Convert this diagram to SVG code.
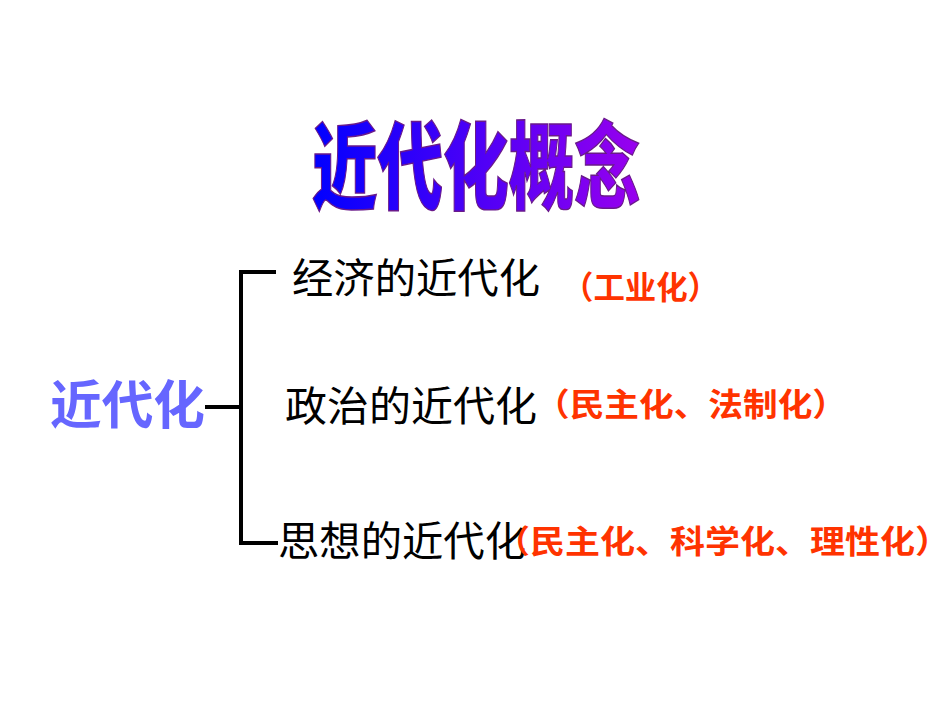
<svg xmlns="http://www.w3.org/2000/svg" width="950" height="713" viewBox="0 0 950 713">
<defs>
<linearGradient id="g" x1="0" y1="0" x2="1" y2="0"><stop offset="0" stop-color="#0000ff"/><stop offset="1" stop-color="#9900ee"/></linearGradient>
<style>
.c{font-family:"Noto Sans CJK SC",sans-serif}
.k{fill:#000;font-size:41px}
.r{fill:#ff3300;font-size:32px;font-weight:bold}
</style>
</defs>
<rect width="950" height="713" fill="#fff"/>
<g id="title"><text class="c" x="0" y="0" transform="translate(312,202) scale(1,1.45)" font-size="66" font-weight="900" fill="url(#g)" stroke="#6a1a8a" stroke-width="1" textLength="328" lengthAdjust="spacingAndGlyphs">近代化概念</text></g>
<g id="connectors" stroke="#000" stroke-width="4" fill="none">
<path d="M276,272 H241 V543 H278"/>
<path d="M205,407 H241"/>
</g>
<g id="root"><text class="c" x="50" y="424" font-size="52" font-weight="bold" fill="#6666ff" textLength="155" lengthAdjust="spacingAndGlyphs">近代化</text></g>
<g id="n1"><text class="c k" x="292" y="293" textLength="248" lengthAdjust="spacingAndGlyphs">经济的近代化</text><text class="c r" x="562" y="299" textLength="157" lengthAdjust="spacingAndGlyphs">（工业化）</text></g>
<g id="n2"><text class="c k" x="285" y="421" textLength="252" lengthAdjust="spacingAndGlyphs">政治的近代化</text><text class="c r" x="535" y="416" textLength="312" lengthAdjust="spacingAndGlyphs">（民主化、法制化）</text></g>
<g id="n3"><text class="c k" x="278" y="556" textLength="248" lengthAdjust="spacingAndGlyphs">思想的近代化</text><text class="c r" x="495" y="553" textLength="455" lengthAdjust="spacingAndGlyphs">（民主化、科学化、理性化）</text></g>
</svg>
